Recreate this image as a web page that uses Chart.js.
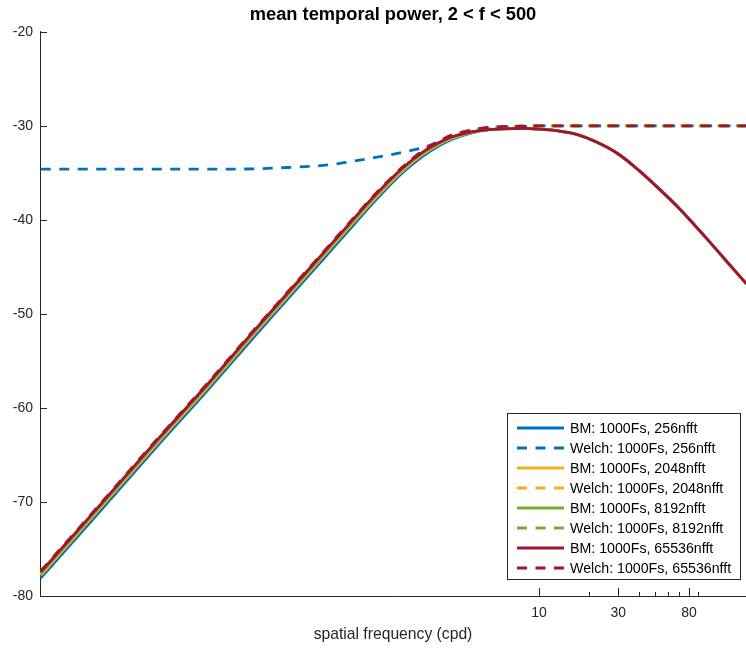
<!DOCTYPE html>
<html>
<head>
<meta charset="utf-8">
<script src="https://cdn.jsdelivr.net/npm/chart.js@4.4.1/dist/chart.umd.min.js"></script>
<style>
  html, body { margin: 0; padding: 0; background: #fff; }
</style>
</head>
<body>
<canvas id="powerChart" width="746" height="654"></canvas>
<script>
// spatial frequency (cpd) sample points
const freqs = [0.01, 0.02, 0.05, 0.1, 0.2, 0.3, 0.5, 0.7, 1, 1.5, 2, 2.5, 3, 4, 5, 6, 8, 10, 13, 17, 22, 30, 40, 50, 70, 100, 130, 177];

const bm256 = [-78.1, -72.1, -64.1, -58.2, -52.1, -48.6, -44.2, -41.3, -38.2, -35.0, -33.2, -32.1, -31.4, -30.7, -30.4, -30.3, -30.25, -30.33, -30.52, -30.92, -31.68, -32.98, -34.75, -36.3, -38.8, -41.8, -44.1, -46.8];
const welch256 = [-34.6, -34.6, -34.6, -34.6, -34.55, -34.42, -34.2, -33.85, -33.4, -32.8, -32.3, -31.7, -31.2, -30.6, -30.3, -30.15, -30.05, -30, -30, -30, -30, -30, -30, -30, -30, -30, -30, -30];
const bm2048 = [-77.8, -71.8, -63.8, -57.9, -51.8, -48.3, -43.9, -41.0, -37.95, -34.8, -33.0, -31.95, -31.3, -30.65, -30.4, -30.3, -30.25, -30.33, -30.52, -30.92, -31.68, -32.98, -34.75, -36.3, -38.8, -41.8, -44.1, -46.8];
const welch2048 = [-77.75, -71.75, -63.75, -57.85, -51.75, -48.25, -43.85, -40.95, -37.9, -34.75, -32.9, -31.8, -31.1, -30.45, -30.2, -30.1, -30.02, -30, -30, -30, -30, -30, -30, -30, -30, -30, -30, -30];
const bm8192 = [-77.6, -71.6, -63.6, -57.7, -51.6, -48.1, -43.7, -40.8, -37.75, -34.6, -32.85, -31.85, -31.2, -30.6, -30.38, -30.3, -30.25, -30.33, -30.52, -30.92, -31.68, -32.98, -34.75, -36.3, -38.8, -41.8, -44.1, -46.8];
const welch8192 = [-77.55, -71.55, -63.55, -57.65, -51.55, -48.05, -43.65, -40.75, -37.7, -34.55, -32.75, -31.7, -31.0, -30.4, -30.18, -30.08, -30.02, -30, -30, -30, -30, -30, -30, -30, -30, -30, -30, -30];
const bm65536 = [-77.45, -71.45, -63.45, -57.55, -51.45, -47.95, -43.55, -40.65, -37.6, -34.5, -32.75, -31.75, -31.15, -30.6, -30.38, -30.3, -30.25, -30.33, -30.52, -30.92, -31.68, -32.98, -34.75, -36.3, -38.8, -41.8, -44.1, -46.8];
const welch65536 = [-77.35, -71.35, -63.35, -57.45, -51.35, -47.85, -43.45, -40.55, -37.5, -34.4, -32.6, -31.6, -30.95, -30.4, -30.15, -30.07, -30.02, -30, -30, -30, -30, -30, -30, -30, -30, -30, -30, -30];

const seriesLabels = [
    'BM: 1000Fs, 256nfft', 'Welch: 1000Fs, 256nfft',
    'BM: 1000Fs, 2048nfft', 'Welch: 1000Fs, 2048nfft',
    'BM: 1000Fs, 8192nfft', 'Welch: 1000Fs, 8192nfft',
    'BM: 1000Fs, 65536nfft', 'Welch: 1000Fs, 65536nfft'
];
const seriesValues = [bm256, welch256, bm2048, welch2048, bm8192, welch8192, bm65536, welch65536];
const seriesColors = ['#0072BD', '#0072BD', '#EDB120', '#EDB120', '#77AC30', '#77AC30', '#A2142F', '#A2142F'];

const yTicks = [-20, -30, -40, -50, -60, -70, -80];
const xTicks = [10, 20, 30, 40, 50, 60, 70, 80, 90];
const xTickLabels = ['10', '', '30', '', '', '', '', '80', ''];

const axisColor = '#262626';
const dashPattern = [10, 8.5];

Chart.defaults.font.family = '"Liberation Sans", Arial, Helvetica, sans-serif';
Chart.defaults.color = axisColor;

const datasets = seriesValues.map((vals, i) => ({
    label: seriesLabels[i],
    data: freqs.map((f, j) => ({ x: f, y: vals[j] })),
    borderColor: seriesColors[i],
    backgroundColor: seriesColors[i],
    borderWidth: 2.8,
    borderDash: i % 2 === 1 ? dashPattern : [],
    pointRadius: 0,
    cubicInterpolationMode: 'monotone',
    order: seriesValues.length - i, // later series on top, like MATLAB
    fill: false
}));

// inward tick marks + boxed legend in the lower right, drawn over the lines
const matlabLook = {
    id: 'matlabLook',
    afterDatasetsDraw(chart) {
        const { ctx, chartArea: a, scales: { x, y } } = chart;
        ctx.save();
        ctx.strokeStyle = axisColor;
        ctx.lineWidth = 1;
        ctx.beginPath();
        yTicks.forEach(v => {
            const py = Math.round(y.getPixelForValue(v)) + 0.5;
            ctx.moveTo(a.left, py);
            ctx.lineTo(a.left + 7, py);
        });
        xTicks.forEach((v, i) => {
            const px = Math.round(x.getPixelForValue(v)) + 0.5;
            const len = xTickLabels[i] ? 8 : 4;
            ctx.moveTo(px, a.bottom);
            ctx.lineTo(px, a.bottom - len);
        });
        ctx.stroke();

        // legend
        const bx = a.right - 239, by = a.bottom - 183, bw = 233, bh = 166;
        ctx.fillStyle = '#fff';
        ctx.fillRect(bx, by, bw, bh);
        ctx.strokeStyle = axisColor;
        ctx.strokeRect(bx + 0.5, by + 0.5, bw, bh);
        ctx.font = '14.2px "Liberation Sans", Arial, sans-serif';
        ctx.textBaseline = 'middle';
        ctx.textAlign = 'left';
        chart.data.datasets.forEach((ds, i) => {
            const ry = by + 15 + i * 20;
            ctx.strokeStyle = ds.borderColor;
            ctx.lineWidth = ds.borderWidth;
            ctx.setLineDash(ds.borderDash);
            ctx.beginPath();
            ctx.moveTo(bx + 10, ry);
            ctx.lineTo(bx + 57, ry);
            ctx.stroke();
            ctx.setLineDash([]);
            ctx.fillStyle = '#000';
            ctx.fillText(ds.label, bx + 63, ry + 1);
        });
        ctx.restore();
    }
};

new Chart(document.getElementById('powerChart'), {
    type: 'line',
    data: { datasets: datasets },
    options: {
        responsive: false,
        animation: false,
        events: [],
        layout: { padding: 0 },
        plugins: {
            legend: { display: false },
            tooltip: { enabled: false },
            title: {
                display: true,
                fullSize: false,
                text: 'mean temporal power, 2 < f < 500',
                color: '#000',
                font: { size: 18.3, weight: 'bold' },
                padding: { top: 3.5, bottom: 6.5 }
            }
        },
        scales: {
            x: {
                type: 'logarithmic',
                min: 0.0099,
                max: 176,
                grid: { display: false, drawTicks: false },
                border: { display: true, color: axisColor, width: 1 },
                afterBuildTicks: scale => {
                    scale.ticks = xTicks.map(v => ({ value: v }));
                },
                ticks: {
                    autoSkip: false,
                    maxRotation: 0,
                    padding: 9,
                    font: { size: 14 },
                    callback: (value) => {
                        const i = xTicks.indexOf(value);
                        return i >= 0 ? xTickLabels[i] : '';
                    }
                },
                title: {
                    display: true,
                    text: 'spatial frequency (cpd)',
                    font: { size: 15.7 },
                    padding: { top: 0, bottom: 10 }
                },
                afterFit: scale => { scale.height = 58; }
            },
            y: {
                min: -80,
                max: -20,
                grid: { display: false, drawTicks: false },
                border: { display: true, color: axisColor, width: 1 },
                ticks: {
                    stepSize: 10,
                    padding: 7,
                    font: { size: 14 }
                },
                afterFit: scale => { scale.width = 40; }
            }
        }
    },
    plugins: [matlabLook]
});
</script>
</body>
</html>
